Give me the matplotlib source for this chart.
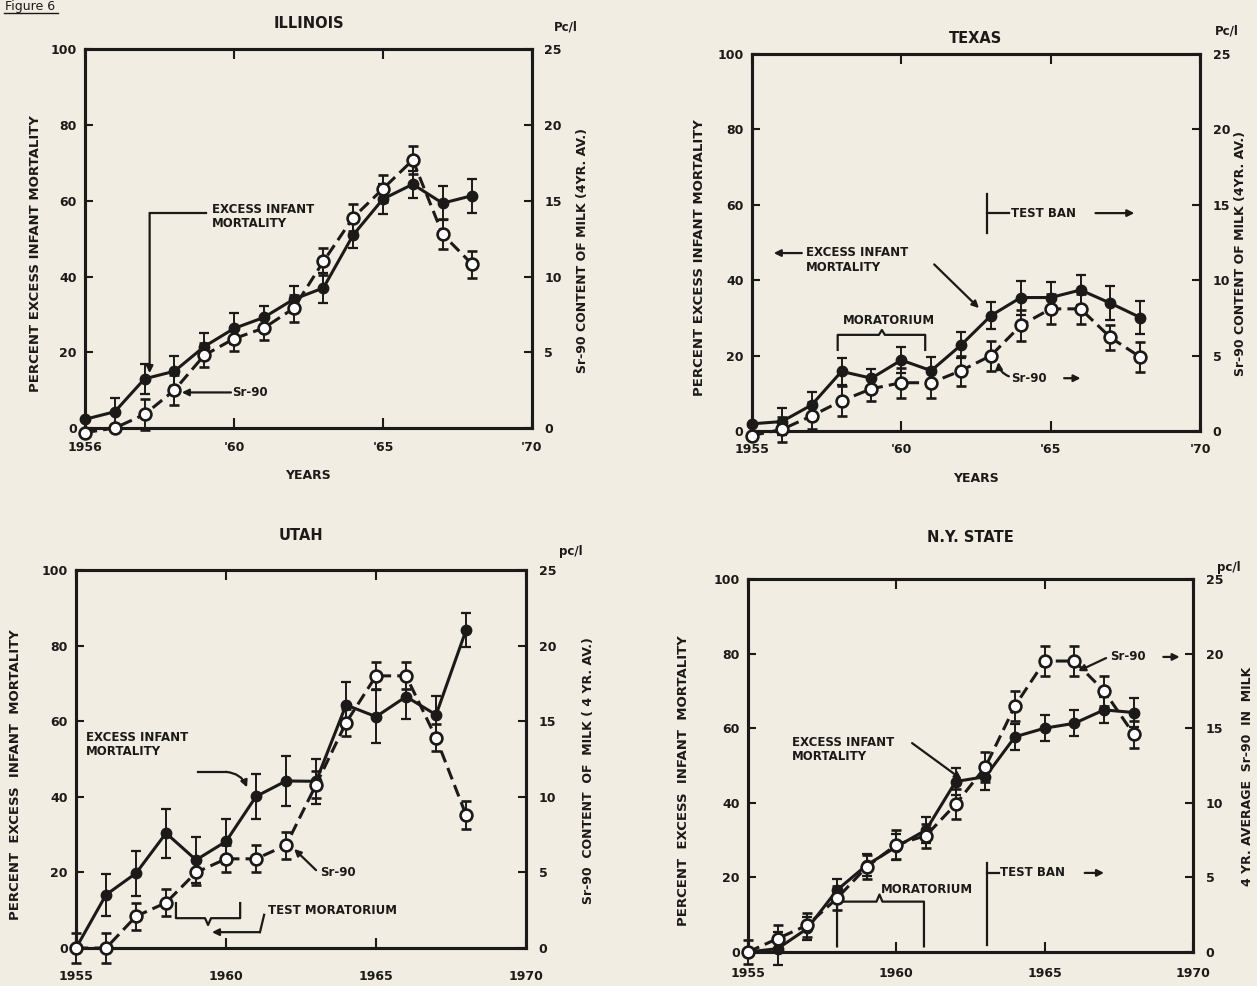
import matplotlib.pyplot as plt

# strontium-90 in milk vs excess infant mortality, four states
years = list(range(1955, 1969))

ill_mort = [2.3, 4.3, 13.0, 15.0, 21.5, 26.3, 29.2, 34.0, 37.0, 51.0, 60.5, 64.4, 59.4, 61.4]
ill_mort_err = [0, 3.5, 4, 4, 3.5, 4, 3, 3.5, 4, 3.5, 4, 3.5, 4.5, 4.5]
ill_sr = [-0.3, 0.0, 0.9, 2.5, 4.8, 5.9, 6.6, 7.9, 11.0, 13.9, 15.8, 17.7, 12.8, 10.8]
ill_sr_err = [0, 0, 1.0, 1.0, 0.8, 0.8, 0.8, 0.9, 0.9, 0.9, 0.9, 0.9, 1.0, 0.9]

tex_mort = [1.9, 2.5, 6.9, 15.8, 14.0, 18.8, 16.0, 22.8, 30.6, 35.4, 35.4, 37.4, 33.9, 30.1]
tex_mort_err = [0, 3.5, 3.5, 3.5, 2.5, 3.5, 3.5, 3.5, 3.5, 4.5, 4, 4, 4.5, 4.5]
tex_sr = [-0.3, 0.1, 1.0, 2.0, 2.8, 3.2, 3.2, 4.0, 5.0, 7.0, 8.1, 8.1, 6.2, 4.9]
tex_sr_err = [0, 0.8, 0.9, 1.0, 0.8, 1.0, 1.0, 1.0, 1.0, 1.0, 1.0, 1.0, 0.8, 1.0]

uta_mort = [0.0, 14.1, 19.8, 30.4, 23.3, 28.2, 40.1, 44.2, 44.1, 64.3, 61.2, 66.5, 61.7, 84.1]
uta_mort_err = [0, 5.5, 6, 6.5, 6, 6, 6, 6.5, 6, 6, 7, 6, 5, 4.5]
uta_sr = [0.0, 0.0, 2.1, 3.0, 5.0, 5.9, 5.9, 6.8, 10.8, 14.9, 18.0, 18.0, 13.9, 8.8]
uta_sr_err = [1.0, 1.0, 0.9, 0.9, 0.8, 0.9, 0.9, 0.9, 0.9, 0.9, 0.9, 0.9, 0.9, 0.9]

ny_mort = [0.0, 0.9, 6.3, 16.6, 23.3, 28.2, 32.7, 45.7, 47.0, 57.7, 60.0, 61.3, 64.9, 64.2]
ny_mort_err = [0, 4.5, 3, 3, 3, 3.5, 3.5, 3.5, 3.5, 3.5, 3.5, 3.5, 3.5, 4]
ny_sr = [0.0, 0.9, 1.8, 3.6, 5.7, 7.2, 7.8, 9.9, 12.4, 16.5, 19.5, 19.5, 17.5, 14.6]
ny_sr_err = [0.8, 0.9, 0.8, 0.8, 0.8, 1.0, 0.8, 1.0, 1.0, 1.0, 1.0, 1.0, 1.0, 0.9]

left_ticks = [0, 20, 40, 60, 80, 100]
right_ticks = [0, 5, 10, 15, 20, 25]
x_ticks = [1955, 1960, 1965, 1970]

ink = '#1c1a18'
paper = '#f1ede3'
plt.rcParams['font.family'] = 'DejaVu Sans'
plt.rcParams['font.weight'] = 'bold'
plt.rcParams['axes.labelweight'] = 'bold'

fig = plt.figure(figsize=(12.57, 9.86), dpi=100, facecolor=paper)

fig.text(0.004, 0.9995, 'Figure 6', fontsize=9, weight='normal', color=ink, va='top')
fig.add_artist(plt.Line2D([0.003, 0.046], [0.987, 0.987], color=ink, lw=1))


def panel(rect, title, title_y, mort, mort_err, sr, sr_err, xlabels, left_lab, right_lab,
          unit, unit_xy, lab_x, xpad, xlabel=None):
    ax = fig.add_axes(rect)
    ax.set_facecolor(paper)
    ax2 = ax.twinx()
    ax.set_xlim(1955, 1970)
    ax.set_ylim(0, 100)
    ax2.set_ylim(0, 25)
    ax.errorbar(years, mort, yerr=mort_err, color=ink, lw=2.2, marker='o', ms=7.5,
                mfc=ink, mec=ink, elinewidth=1.4, capsize=3.8, capthick=1.6, zorder=3,
                clip_on=False)
    ax2.errorbar(years, sr, yerr=sr_err, color=ink, lw=2.2, ls=(0, (4, 2)), marker='o',
                 ms=8.5, mfc='white', mec=ink, mew=1.9, elinewidth=1.4, capsize=3.8,
                 capthick=1.6, zorder=3, clip_on=False)
    ax.set_xticks(x_ticks)
    ax.set_xticklabels(xlabels)
    ax.set_yticks(left_ticks)
    ax2.set_yticks(right_ticks)
    ax.tick_params(axis='x', direction='in', top=True, length=7, width=1.5, pad=xpad,
                   labelsize=9, colors=ink)
    ax.tick_params(axis='y', direction='in', length=6, width=1.5, pad=6, labelsize=9,
                   colors=ink)
    ax2.tick_params(axis='y', direction='in', length=6, width=1.5, pad=9, labelsize=9,
                    colors=ink)
    for a in (ax, ax2):
        for s in a.spines.values():
            s.set_linewidth(2.2)
            s.set_color(ink)
    ax.set_ylabel(left_lab, fontsize=9.5, color=ink)
    ax2.set_ylabel(right_lab, fontsize=9, color=ink)
    ax.yaxis.set_label_coords(lab_x[0], 0.46)
    ax2.yaxis.set_label_coords(lab_x[1], 0.47)
    if xlabel:
        ax.set_xlabel(xlabel, fontsize=9, color=ink, labelpad=11)
    ax.text(0.5, title_y, title, transform=ax.transAxes, ha='center', va='center',
            fontsize=10.5, color=ink)
    ax.text(unit_xy[0], unit_xy[1], unit, transform=ax.transAxes, ha='center',
            va='center', fontsize=8.5, color=ink)
    return ax


arrow = dict(arrowstyle='-|>', color=ink, lw=1.6, mutation_scale=10, shrinkA=0, shrinkB=0)
line = dict(color=ink, lw=1.6)
fs = 8.5

# ILLINOIS
ax = panel([0.0676, 0.5659, 0.3556, 0.3839], 'ILLINOIS', 1.07, ill_mort, ill_mort_err,
           ill_sr, ill_sr_err, ['1956', "'60", "'65", "'70"],
           'PERCENT EXCESS INFANT MORTALITY', 'Sr-90 CONTENT OF MILK (4YR. AV.)',
           'Pc/l', (1.075, 1.06), (-0.096, 1.098), 9, 'YEARS')
ax.text(1959.25, 59.5, 'EXCESS INFANT\nMORTALITY', fontsize=fs, color=ink, va='top',
        linespacing=1.15)
ax.plot([1957.17, 1959.05], [56.8, 56.8], **line)
ax.annotate('', xy=(1957.17, 14.5), xytext=(1957.17, 56.8), arrowprops=arrow)
ax.text(1959.95, 9.4, 'Sr-90', fontsize=fs, color=ink, va='center')
ax.annotate('', xy=(1958.25, 9.4), xytext=(1959.9, 9.4), arrowprops=arrow)

# TEXAS
ax = panel([0.5982, 0.5629, 0.3565, 0.3823], 'TEXAS', 1.04, tex_mort, tex_mort_err,
           tex_sr, tex_sr_err, ['1955', "'60", "'65", "'70"],
           'PERCENT EXCESS INFANT MORTALITY', 'Sr-90 CONTENT OF MILK (4YR. AV.)',
           'Pc/l', (1.06, 1.06), (-0.103, 1.076), 9, 'YEARS')
ax.plot([1962.87, 1962.87], [52.5, 63], **line)
ax.plot([1962.87, 1963.6], [57.8, 57.8], **line)
ax.text(1963.67, 57.8, 'TEST BAN', fontsize=fs, color=ink, va='center')
ax.annotate('', xy=(1967.8, 57.8), xytext=(1966.5, 57.8), arrowprops=arrow)
ax.annotate('', xy=(1955.73, 47.2), xytext=(1956.67, 47.2), arrowprops=arrow)
ax.text(1956.8, 49, 'EXCESS INFANT\nMORTALITY', fontsize=fs, color=ink, va='top',
        linespacing=1.15)
ax.annotate('', xy=(1962.6, 32.6), xytext=(1961.1, 44.2), arrowprops=arrow)
ax.text(1959.6, 29.2, 'MORATORIUM', fontsize=fs, color=ink, ha='center', va='center')
ax.plot([1957.87, 1957.87, 1959.25, 1959.35, 1959.45, 1960.8, 1960.8],
        [21.5, 25.5, 25.5, 26.8, 25.5, 25.5, 21.5], **line)
ax.text(1963.67, 14.0, 'Sr-90', fontsize=fs, color=ink, va='center')
ax.annotate('', xy=(1966.0, 14.0), xytext=(1965.45, 14.0), arrowprops=arrow)
ax.annotate('', xy=(1963.25, 18.3), xytext=(1963.6, 14.5),
            arrowprops=dict(arrow, connectionstyle='arc3,rad=-0.3'))

# UTAH
ax = panel([0.0605, 0.0385, 0.358, 0.3834], 'UTAH', 1.09, uta_mort, uta_mort_err,
           uta_sr, uta_sr_err, ['1955', '1960', '1965', '1970'],
           'PERCENT  EXCESS  INFANT  MORTALITY', 'Sr-90  CONTENT  OF  MILK ( 4 YR. AV.)',
           'pc/l', (1.1, 1.05), (-0.12, 1.124), 16)
ax.text(1955.33, 57.5, 'EXCESS INFANT\nMORTALITY', fontsize=fs, color=ink, va='top',
        linespacing=1.15)
ax.plot([1959.05, 1960.0], [46.6, 46.6], **line)
ax.annotate('', xy=(1960.7, 42.5), xytext=(1960.0, 46.6),
            arrowprops=dict(arrow, connectionstyle='arc3,rad=-0.3'))
ax.text(1963.13, 20.1, 'Sr-90', fontsize=fs, color=ink, va='center')
ax.annotate('', xy=(1962.27, 26.2), xytext=(1963.0, 20.6), arrowprops=arrow)
ax.text(1961.4, 9.8, 'TEST MORATORIUM', fontsize=fs, color=ink, va='center')
ax.plot([1958.33, 1958.33, 1959.3, 1959.4, 1959.5, 1960.47, 1960.47],
        [11.9, 7.9, 7.9, 6.1, 7.9, 7.9, 11.9], **line)
ax.plot([1961.27, 1961.13], [8.8, 4.2], **line)
ax.annotate('', xy=(1959.53, 4.2), xytext=(1961.13, 4.2), arrowprops=arrow)

# N.Y. STATE
ax = panel([0.5951, 0.0345, 0.354, 0.3783], 'N.Y. STATE', 1.11, ny_mort, ny_mort_err,
           ny_sr, ny_sr_err, ['1955', '1960', '1965', '1970'],
           'PERCENT  EXCESS  INFANT  MORTALITY', '4 YR. AVERAGE  Sr-90  IN  MILK',
           'pc/l', (1.08, 1.03), (1 - 1.13, 1.108), 11)
ax.text(1956.47, 58, 'EXCESS INFANT\nMORTALITY', fontsize=fs, color=ink, va='top',
        linespacing=1.15)
ax.annotate('', xy=(1962.2, 46.3), xytext=(1960.53, 56), arrowprops=arrow)
ax.text(1967.2, 79.1, 'Sr-90', fontsize=fs, color=ink, va='center')
ax.annotate('', xy=(1969.55, 79.1), xytext=(1969.0, 79.1), arrowprops=arrow,
            annotation_clip=False)
ax.annotate('', xy=(1966.13, 75.3), xytext=(1967.07, 78.8), arrowprops=arrow)
ax.text(1961.03, 16.8, 'MORATORIUM', fontsize=fs, color=ink, ha='center', va='center')
ax.plot([1958.0, 1958.0, 1959.33, 1959.43, 1959.53, 1960.93, 1960.93],
        [1.5, 13.5, 13.5, 15.4, 13.5, 13.5, 1.5], **line)
ax.plot([1963.07, 1963.07], [1.9, 23.9], **line)
ax.plot([1963.07, 1963.45], [21.2, 21.2], **line)
ax.text(1963.5, 21.2, 'TEST BAN', fontsize=fs, color=ink, va='center')
ax.annotate('', xy=(1967.0, 21.2), xytext=(1966.35, 21.2), arrowprops=arrow)

fig.savefig('out.png', dpi=100, facecolor=paper)
